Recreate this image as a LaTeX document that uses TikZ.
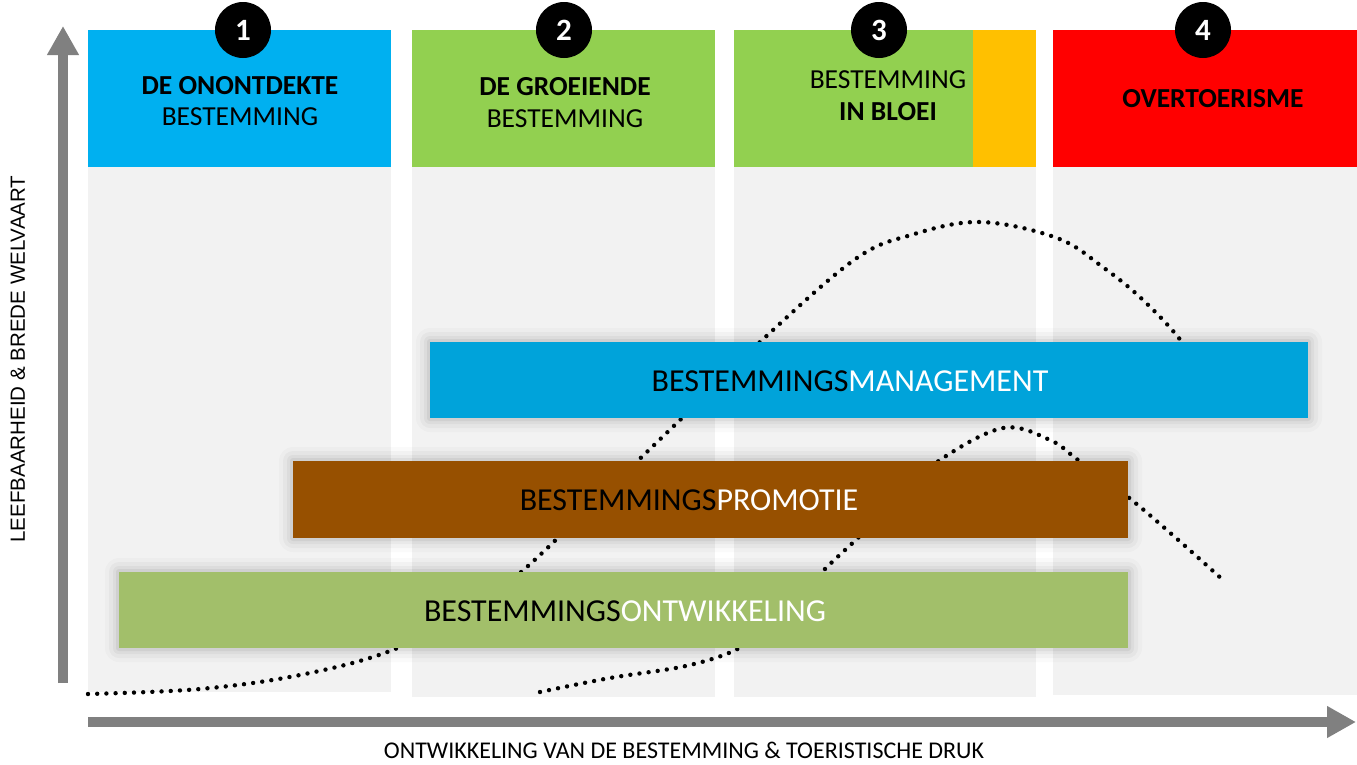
\documentclass[tikz,border=0pt]{standalone}
\usepackage{fontspec}
\setmainfont{Carlito}
\newfontfamily\arialf{Liberation Sans}
\usetikzlibrary{arrows.meta}
\definecolor{bgray}{RGB}{242,242,242}
\definecolor{hblue}{RGB}{0,176,240}
\definecolor{hgreen}{RGB}{146,208,80}
\definecolor{horange}{RGB}{255,192,0}
\definecolor{hred}{RGB}{255,0,0}
\definecolor{mblue}{RGB}{0,163,218}
\definecolor{pbrown}{RGB}{151,80,0}
\definecolor{ogreen}{RGB}{162,191,106}
\definecolor{axgray}{RGB}{128,128,128}
\tikzset{
  colbg/.style={fill=bgray,draw=none},
  hdr/.style={draw=none,anchor=north west,inner sep=0pt,outer sep=0pt},
  numc/.style={circle,fill=black,minimum size=56pt,inner sep=0pt,text=white,font=\fontsize{31}{31}\selectfont\bfseries},
  htext/.style={font=\fontsize{27.5}{29}\selectfont,text=black,inner sep=0pt},
  hbold/.style={font=\fontsize{27.5}{29}\selectfont\bfseries,text=black,inner sep=0pt},
  bar/.style={draw=none,anchor=north west,inner sep=0pt,outer sep=0pt},
  btext/.style={font=\fontsize{32}{34}\selectfont,text=black,inner sep=0pt},
  dots/.style={line width=4.4pt,line cap=round,dash pattern=on 0pt off 9.2pt,black},
  axis/.style={line width=10pt,axgray,-{Triangle[width=30pt,length=29pt]}},
}
\begin{document}
\begin{tikzpicture}[x=1pt,y=-1pt]
\useasboundingbox (0,0) rectangle (1357,764);
% column backgrounds
\fill[colbg] (88,167) rectangle (391,692);
\fill[colbg] (412,167) rectangle (715,697);
\fill[colbg] (734,167) rectangle (1036,697);
\fill[colbg] (1053,167) rectangle (1357,695);
% headers
\node[hdr,fill=hblue,minimum width=303pt,minimum height=137pt] (h1) at (88,30) {};
\node[hdr,fill=hgreen,minimum width=303pt,minimum height=137pt] (h2) at (412,30) {};
\node[hdr,fill=hgreen,minimum width=239pt,minimum height=137pt] (h3) at (734,30) {};
\node[hdr,fill=horange,minimum width=63pt,minimum height=137pt] (h3b) at (973,30) {};
\node[hdr,fill=hred,minimum width=304pt,minimum height=137pt] (h4) at (1053,30) {};
% numbers
\node[numc] (n1) at (243,30) {1};
\node[numc] (n2) at (564,30) {2};
\node[numc] (n3) at (879,30) {3};
\node[numc] (n4) at (1203,30) {4};
% header texts
\node[hbold] (t1a) at (240,86) {DE ONONTDEKTE};
\node[htext] (t1b) at (240,117) {BESTEMMING};
\node[hbold] (t2a) at (565,87) {DE GROEIENDE};
\node[htext] (t2b) at (565,119) {BESTEMMING};
\node[htext] (t3a) at (888,80) {BESTEMMING};
\node[hbold] (t3b) at (888,112) {IN BLOEI};
\node[hbold] (t4a) at (1213,99) {OVERTOERISME};
% curves
\draw[dots] plot[smooth,tension=0.6] coordinates {(88,694) (200,689) (300,675) (390,651) (465,612) (520,573) (600,497) (680,420) (760,342) (854,260) (911,235) (980,222) (1057,238) (1104,268) (1143,300) (1182,342) (1212,390)};
\draw[dots] plot[smooth,tension=0.6] coordinates {(540,692) (610,678) (690,665) (745,645) (790,608) (822,572) (860,536) (900,497) (940,460) (1003,428) (1050,440) (1078,460) (1128,497) (1176,538) (1223,580)};
% bar shadows
\foreach \e/\o in {14/0.02,10/0.03,6/0.04,3/0.05}{
  \fill[black,opacity=\o,rounded corners=\e pt] (430-\e,342-\e) rectangle (1308+\e,418+\e);
  \fill[black,opacity=\o,rounded corners=\e pt] (293-\e,461-\e) rectangle (1128+\e,538+\e);
  \fill[black,opacity=\o,rounded corners=\e pt] (119-\e,572-\e) rectangle (1128+\e,648+\e);
}
% bars
\node[bar,fill=mblue,minimum width=878pt,minimum height=76pt] (bm) at (430,342) {};
\node[bar,fill=pbrown,minimum width=835pt,minimum height=77pt] (bp) at (293,461) {};
\node[bar,fill=ogreen,minimum width=1009pt,minimum height=76pt] (bo) at (119,572) {};
\node[btext] (tm) at (850,381) {BESTEMMINGS\textcolor{white}{MANAGEMENT}};
\node[btext] (tp) at (689,500) {BESTEMMINGS\textcolor{white}{PROMOTIE}};
\node[btext] (to) at (625,611) {BESTEMMINGS\textcolor{white}{ONTWIKKELING}};
% axes
\coordinate (ya0) at (63,683);
\coordinate (ya1) at (63,26);
\coordinate (xa0) at (88,722);
\coordinate (xa1) at (1356,722);
\draw[axis] (ya0) -- (ya1);
\draw[axis] (xa0) -- (xa1);
\node[rotate=90,font=\arialf\fontsize{20.5}{20.5}\selectfont,inner sep=0pt] (ylab) at (18,359) {LEEFBAARHEID \& BREDE WELVAART};
\node[font=\fontsize{24}{24}\selectfont,inner sep=0pt] (xlab) at (684,750) {ONTWIKKELING VAN DE BESTEMMING \& TOERISTISCHE DRUK};
\end{tikzpicture}
\end{document}
